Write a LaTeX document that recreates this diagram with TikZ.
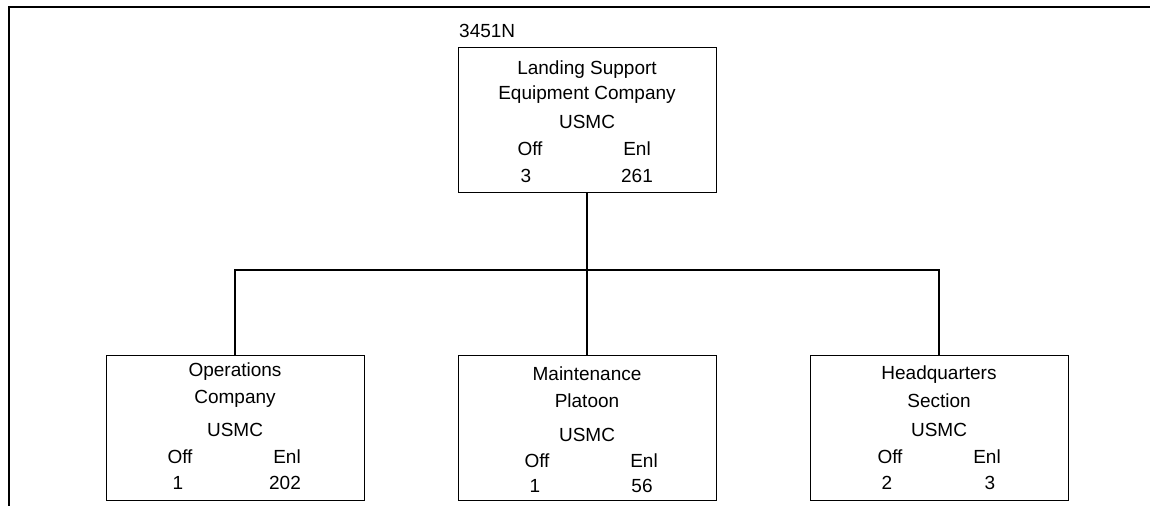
\documentclass[tikz,border=0pt]{standalone}
\usepackage{fontspec}
\setmainfont{Liberation Sans}
\begin{document}
\begin{tikzpicture}[x=1pt,y=-1pt,
  unitbox/.style={draw=black, line width=0.9pt, minimum width=258pt, minimum height=145pt, inner sep=0pt},
  txt/.style={anchor=base, inner sep=0pt, font=\fontsize{19}{22}\selectfont},
  conn/.style={line width=1.1pt},
  frameline/.style={line width=2.6pt}]
\useasboundingbox (0,0) rectangle (1150,506);
% frame
\coordinate (frTR) at (1150,7);
\coordinate (frTL) at (9,7);
\coordinate (frBL) at (9,506);
\draw[frameline] (frTR) -- (frTL) -- (frBL);
% boxes
\node[unitbox] (top) at (587,119.5) {};
\node[unitbox] (ops) at (235,427.5) {};
\node[unitbox] (mnt) at (587,427.5) {};
\node[unitbox] (hq)  at (939,427.5) {};
\coordinate (bus) at (587,270);
% connectors
\draw[conn] (top.south) -- (mnt.north);
\draw[conn] (ops.north) |- (bus) -| (hq.north);
% label above
\node[txt, anchor=base west] (code) at (459,37) {3451N};
% top box text
\node[txt] (t1) at (587,74) {Landing Support};
\node[txt] (t2) at (587,99) {Equipment Company};
\node[txt] (t3) at (587,128) {USMC};
\node[txt] (t4) at (530,155) {Off};
\node[txt] (t5) at (637,155) {Enl};
\node[txt] (t6) at (526,182) {3};
\node[txt] (t7) at (637,182) {261};
% operations
\node[txt] (o1) at (235,376) {Operations};
\node[txt] (o2) at (235,403) {Company};
\node[txt] (o3) at (235,436) {USMC};
\node[txt] (o4) at (180,463) {Off};
\node[txt] (o5) at (287,463) {Enl};
\node[txt] (o6) at (178,489) {1};
\node[txt] (o7) at (285,489) {202};
% maintenance
\node[txt] (m1) at (587,380) {Maintenance};
\node[txt] (m2) at (587,407) {Platoon};
\node[txt] (m3) at (587,441) {USMC};
\node[txt] (m4) at (537,467) {Off};
\node[txt] (m5) at (644,467) {Enl};
\node[txt] (m6) at (535,492) {1};
\node[txt] (m7) at (642,492) {56};
% headquarters
\node[txt] (h1) at (939,379) {Headquarters};
\node[txt] (h2) at (939,407) {Section};
\node[txt] (h3) at (939,436) {USMC};
\node[txt] (h4) at (890,463) {Off};
\node[txt] (h5) at (987,463) {Enl};
\node[txt] (h6) at (887,489) {2};
\node[txt] (h7) at (990,489) {3};
\end{tikzpicture}
\end{document}
